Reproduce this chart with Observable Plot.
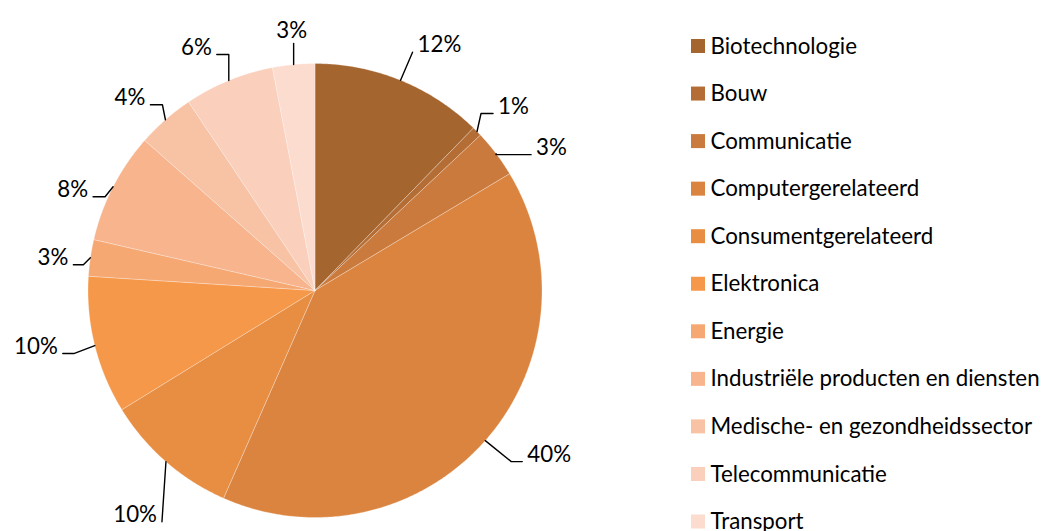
<!DOCTYPE html>
<html>
<head>
<meta charset="utf-8">
<script src="https://cdn.jsdelivr.net/npm/d3@7"></script>
<script src="https://cdn.jsdelivr.net/npm/@observablehq/plot@0.6"></script>
<style>
  html, body { margin: 0; padding: 0; background: #fff; }
  #chart svg { display: block; font-family: Lato, "Open Sans", sans-serif; }
</style>
</head>
<body>
<div id="chart"></div>
<script>
// ---- data ----
const categories = [
  "Biotechnologie", "Bouw", "Communicatie", "Computergerelateerd",
  "Consumentgerelateerd", "Elektronica", "Energie",
  "Industriële producten en diensten", "Medische- en gezondheidssector",
  "Telecommunicatie", "Transport"
];
const shares = [12.3, 0.7, 3.4, 40.2, 9.6, 9.8, 2.6, 7.9, 4.1, 6.4, 3.0];
const colors = [
  "#A5652F", "#B46D34", "#C97A3C", "#DB843F", "#E88E43", "#F69849",
  "#F6A873", "#F7B48D", "#F8C2A5", "#FACFBB", "#FCDCCF"
];

// ---- layout (not data) ----
const W = 1043, H = 531;
const cx = 314.5, cy = 290, R = 227;
// label leader layout: [dx, dy] of leader end relative to slice edge, stub length, side
const labelLayout = [
  {off: [12, -28], stub: 0, dir: 1},
  {off: [16, -18], stub: 12, dir: 1},
  {off: [35, 1], stub: 35, dir: 1},
  {off: [37, 21], stub: 11, dir: 1},
  {off: [-4, 60], stub: 0, dir: -1},
  {off: [-32, 8], stub: 11, dir: -1},
  {off: [-17, 7], stub: 10, dir: -1},
  {off: [-20, 10], stub: 12, dir: -1},
  {off: [-15, -15], stub: 12, dir: -1},
  {off: [-12, -26], stub: 12, dir: -1},
  {off: [0, -21], stub: 0, dir: 0}
];
const legendX = 691, legendY0 = 46, legendStep = 47.55, legendBox = 14;
const fs = 22.3;

// ---- geometry from data ----
const arcs = d3.pie().sort(null).value(d => d)(shares);
const polar = (a, r) => [cx + r * Math.sin(a), cy - r * Math.cos(a)];

const slicePts = [];
arcs.forEach((a, i) => {
  const c = categories[i];
  slicePts.push({c, x: cx, y: cy});
  const n = Math.max(2, Math.ceil((a.endAngle - a.startAngle) / (Math.PI / 360)));
  for (let k = 0; k <= n; k++) {
    const ang = a.startAngle + (a.endAngle - a.startAngle) * k / n;
    const [x, y] = polar(ang, R);
    slicePts.push({c, x, y});
  }
  slicePts.push({c, x: cx, y: cy});
});

const leaders = [];
const labels = [];
arcs.forEach((a, i) => {
  const mid = (a.startAngle + a.endAngle) / 2;
  const [ex, ey] = polar(mid, R);
  const L = labelLayout[i];
  const endX = ex + L.off[0], endY = ey + L.off[1];
  const elbowX = endX - L.stub * L.dir;
  leaders.push({k: i, x: ex, y: ey});
  leaders.push({k: i, x: elbowX, y: endY});
  leaders.push({k: i, x: endX, y: endY});
  const txt = Math.round(shares[i]) + "%";
  if (L.dir === 0) {
    labels.push({x: endX - 2, y: endY - 13, t: txt, anchor: "middle"});
  } else {
    labels.push({x: endX + 5 * L.dir, y: endY - 7, t: txt, anchor: L.dir > 0 ? "start" : "end"});
  }
});

const legend = categories.map((c, i) => ({c, y: legendY0 + i * legendStep}));

const chart = Plot.plot({
  width: W, height: H, margin: 0,
  x: {domain: [0, W], range: [0, W], axis: null},
  y: {domain: [0, H], range: [0, H], axis: null},
  color: {domain: categories, range: colors},
  style: {fontFamily: "Lato, 'Open Sans', sans-serif", background: "#fff"},
  marks: [
    Plot.line(slicePts, {x: "x", y: "y", z: "c", fill: "c", stroke: "#fff", strokeOpacity: 0.35, strokeWidth: 0.8, curve: "linear"}),
    Plot.line(leaders, {x: "x", y: "y", z: "k", stroke: "#000", strokeWidth: 1.4, curve: "linear"}),
    Plot.text(labels.filter(d => d.anchor === "start"), {x: "x", y: "y", text: "t", textAnchor: "start", fontSize: fs, fill: "#000"}),
    Plot.text(labels.filter(d => d.anchor === "end"), {x: "x", y: "y", text: "t", textAnchor: "end", fontSize: fs, fill: "#000"}),
    Plot.text(labels.filter(d => d.anchor === "middle"), {x: "x", y: "y", text: "t", textAnchor: "middle", fontSize: fs, fill: "#000"}),
    Plot.rect(legend, {x1: legendX, x2: legendX + legendBox, y1: d => d.y - legendBox / 2, y2: d => d.y + legendBox / 2, fill: "c"}),
    Plot.text(legend, {x: legendX + 19, y: "y", text: "c", textAnchor: "start", fontSize: fs, fill: "#000"})
  ]
});
document.getElementById("chart").appendChild(chart);
</script>
</body>
</html>
